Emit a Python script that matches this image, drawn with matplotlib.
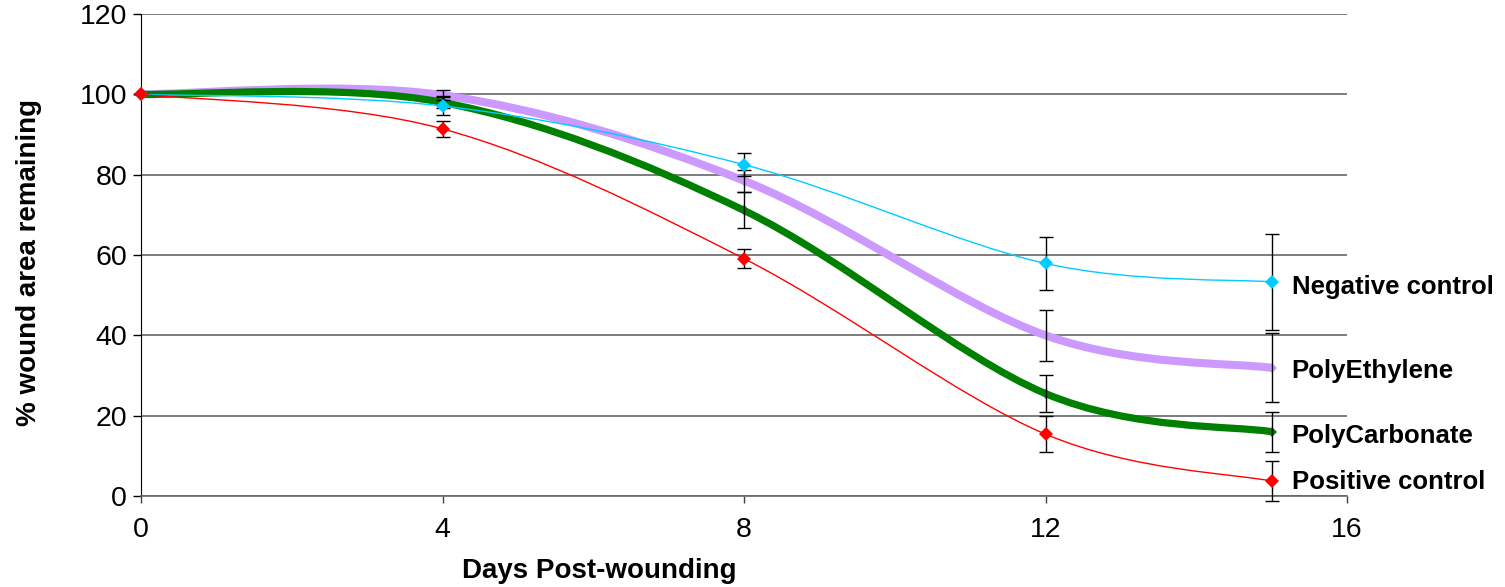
import numpy as np
import matplotlib.pyplot as plt
from matplotlib.path import Path
from matplotlib.patches import PathPatch

plt.rcParams['font.family'] = ['Liberation Sans', 'DejaVu Sans']

# DATA
days = [0, 4, 8, 12, 15]
negative_control = [100, 97.1, 82.5, 57.9, 53.3]
poly_ethylene = [100, 99.8, 78.5, 40.0, 31.9]
poly_carbonate = [100, 98.0, 71.1, 25.5, 16.0]
positive_control = [100, 91.4, 59.1, 15.4, 3.7]

negative_err = [0, 2.3, 2.8, 6.5, 12.0]
ethylene_err = [0, 1.2, 2.7, 6.4, 8.6]
carbonate_err = [0, 1.5, 4.5, 4.6, 5.0]
positive_err = [0, 2.0, 2.3, 4.5, 5.0]

series_names = ['Negative control', 'PolyEthylene', 'PolyCarbonate', 'Positive control']
x_ticks = [0, 4, 8, 12, 16]
y_ticks = [0, 20, 40, 60, 80, 100, 120]


def smooth_path(x, y):
    # excel-like smoothed line: cubic bezier through every point
    pts = np.column_stack([x, y]).astype(float)
    ext = np.vstack([pts[0], pts, pts[-1]])
    verts = [pts[0]]
    codes = [Path.MOVETO]
    for i in range(len(pts) - 1):
        p0, p1, p2, p3 = ext[i], ext[i + 1], ext[i + 2], ext[i + 3]
        verts += [p1 + (p2 - p0) / 6, p2 - (p3 - p1) / 6, p2]
        codes += [Path.CURVE4] * 3
    return Path(verts, codes)


fig = plt.figure(figsize=(15.05, 5.87), dpi=100)
ax = fig.add_axes([141 / 1505, 91 / 587, 1206 / 1505, 482 / 587])

styles = [
    (negative_control, negative_err, '#00CCFF', 1.0, 4, 'D', 7.5),
    (poly_ethylene, ethylene_err, '#CC99FF', 5.8, 2, 'D', 5),
    (poly_carbonate, carbonate_err, '#008000', 5.2, 2.2, 'D', 5),
    (positive_control, positive_err, '#FF0000', 1.0, 4.2, 'D', 7.5),
]

label_offsets = [-3, -1, -2, 2]

for (vals, err, col, lw, z, mk, ms), name, dy in zip(styles, series_names, label_offsets):
    ax.add_patch(PathPatch(smooth_path(days, vals), fill=False, edgecolor=col,
                           lw=lw, zorder=z, capstyle='butt', joinstyle='round'))
    eb = ax.errorbar(days, vals, yerr=err, fmt='none', ecolor='black',
                     elinewidth=1, capsize=4.7, capthick=1, zorder=3)
    for art in eb.lines[1] + eb.lines[2]:
        art.set_clip_on(False)
    ax.plot(days, vals, linestyle='none', marker=mk, markersize=ms, color=col,
            markeredgewidth=0, zorder=z + 0.5, clip_on=False)
    ax.annotate(name, xy=(days[-1], vals[-1]), xytext=(20, dy),
                textcoords='offset pixels', ha='left', va='center_baseline',
                fontsize=18.5, fontweight='bold', annotation_clip=False)

ax.set_xlim(0, 16)
ax.set_ylim(0, 120)
ax.set_xticks(x_ticks)
ax.set_yticks(y_ticks)
ax.yaxis.grid(True, color='#666666', lw=1.2)
ax.set_axisbelow(True)

for s in ['top', 'right']:
    ax.spines[s].set_visible(False)
ax.spines['left'].set_color('black')
ax.spines['bottom'].set_color('#666666')
ax.spines['bottom'].set_linewidth(1.2)

ax.tick_params(axis='y', direction='out', length=6, width=1, color='black',
               labelsize=20.5, pad=4)
ax.tick_params(axis='x', direction='out', length=5, width=1, color='#404040',
               labelsize=20.5, pad=10)

ax.set_xlabel('Days Post-wounding', fontsize=20, fontweight='bold')
ax.set_ylabel('% wound area remaining', fontsize=20, fontweight='bold')
ax.xaxis.set_label_coords(0.38, -0.129)
ax.yaxis.set_label_coords(-0.082, 0.485)

plt.savefig('out.png', dpi=100)
